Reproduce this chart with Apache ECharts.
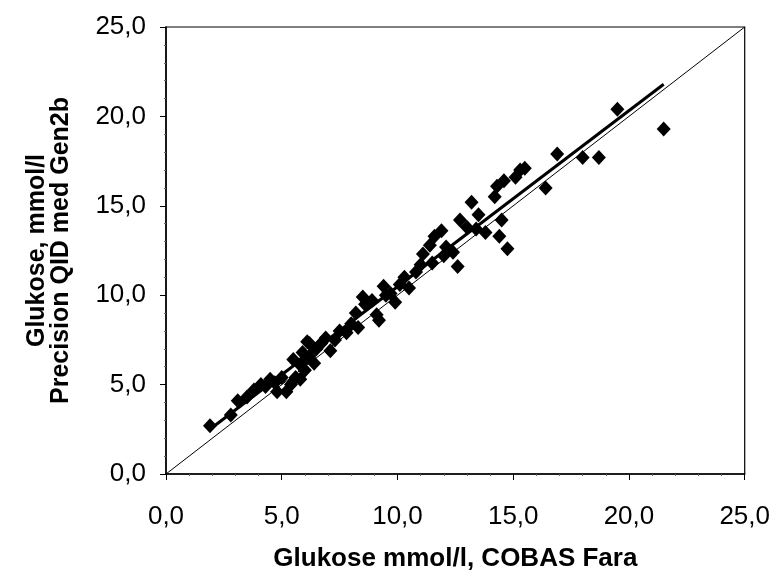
<!DOCTYPE html>
<html><head><meta charset="utf-8">
<script src="https://cdn.jsdelivr.net/npm/echarts@6/dist/echarts.min.js"></script>
<style>html,body{margin:0;padding:0;background:#fff}#c{width:773px;height:577px}</style>
</head><body><div id="c"></div>
<script>
const xTitle = 'Glukose mmol/l, COBAS Fara';
const yTitle = 'Glukose, mmol/l\nPrecision QID med Gen2b';
const cobasValues = [1.9,2.8,3.1,3.5,3.8,4.1,4.3,4.5,4.7,4.8,5.0,5.2,5.4,5.5,5.6,5.8,5.8,5.9,6.0,6.0,6.1,6.2,6.2,6.4,6.5,6.7,6.9,7.1,7.3,7.5,7.8,8.0,8.2,8.3,8.5,8.6,8.9,9.1,9.2,9.4,9.5,9.7,9.9,10.1,10.3,10.5,10.8,11.0,11.1,11.4,11.5,11.6,11.9,12.0,12.1,12.4,12.6,12.7,13.0,13.2,13.4,13.5,13.8,14.2,14.3,14.4,14.5,14.6,14.75,15.1,15.3,15.5,16.4,16.9,18.0,18.7,19.5,21.5];
const qidValues   = [2.7,3.3,4.1,4.3,4.7,5.0,4.9,5.3,5.1,4.6,5.4,4.6,5.0,6.4,5.4,5.3,6.1,6.8,5.8,6.4,7.4,6.6,7.3,6.2,7.0,7.3,7.6,6.9,7.5,8.0,7.9,8.4,9.0,8.2,9.9,9.5,9.7,8.9,8.6,10.5,10.0,10.1,9.6,10.6,11.0,10.4,11.3,11.7,12.3,12.8,11.8,13.3,13.6,12.2,12.7,12.4,11.6,14.2,13.8,15.2,13.7,14.5,13.5,15.5,16.1,13.3,14.2,16.4,12.6,16.6,17.0,17.1,16.0,17.9,17.7,17.7,20.4,19.3];
const regressionX = [1.9, 21.5];
const regressionY = [2.5, 21.8];
const identityX = [0, 25];
const identityY = [0, 25];
const axisMin = 0, axisMax = 25, axisStep = 5;

const points = cobasValues.map((x, i) => [x, qidValues[i]]);
const regLine = regressionX.map((x, i) => [x, regressionY[i]]);
const idLine = identityX.map((x, i) => [x, identityY[i]]);
const fmt = v => v.toFixed(1).replace('.', ',');

const chart = echarts.init(document.getElementById('c'), null, {renderer: 'canvas'});
const FONT = 'Liberation Sans, Arial, sans-serif';
const axisCommon = {
  type: 'value', min: axisMin, max: axisMax, interval: axisStep,
  axisLine: {show: true, onZero: false, lineStyle: {color: '#000', width: 1.5}},
  axisTick: {show: true, inside: false, length: 6, lineStyle: {color: '#000', width: 1}},
  minorTick: {show: true, splitNumber: 5, length: 2, lineStyle: {color: '#666', width: 1}},
  splitLine: {show: false},
  axisLabel: {color: '#000', fontFamily: FONT, fontSize: 26, formatter: fmt},
  nameTextStyle: {color: '#000', fontFamily: FONT, fontSize: 25, fontWeight: 'bold'}
};
chart.setOption({
  animation: false,
  backgroundColor: '#fff',
  grid: {left: 166, right: 28, top: 27, bottom: 100, show: true, borderColor: '#000', borderWidth: 1.2, backgroundColor: 'transparent'},
  xAxis: Object.assign({}, axisCommon, {
    name: xTitle, nameLocation: 'middle', nameGap: 72,
    nameTextStyle: Object.assign({}, axisCommon.nameTextStyle, {fontSize: 26}),
    axisLabel: Object.assign({}, axisCommon.axisLabel, {margin: 30})
  }),
  yAxis: Object.assign({}, axisCommon, {
    name: yTitle, nameLocation: 'middle', nameGap: 93, nameRotate: 90,
    nameTextStyle: Object.assign({}, axisCommon.nameTextStyle, {lineHeight: 24}),
    axisLabel: Object.assign({}, axisCommon.axisLabel, {margin: 20})
  }),
  series: [
    {type: 'line', data: idLine, showSymbol: false, symbol: 'none', lineStyle: {color: '#000', width: 1}, z: 1, silent: true},
    {type: 'line', data: regLine, showSymbol: false, symbol: 'none', lineStyle: {color: '#000', width: 3}, z: 2, silent: true},
    {type: 'scatter', data: points, symbol: 'diamond', symbolSize: [14, 15], itemStyle: {color: '#000', opacity: 1}, z: 3}
  ]
});
</script></body></html>
